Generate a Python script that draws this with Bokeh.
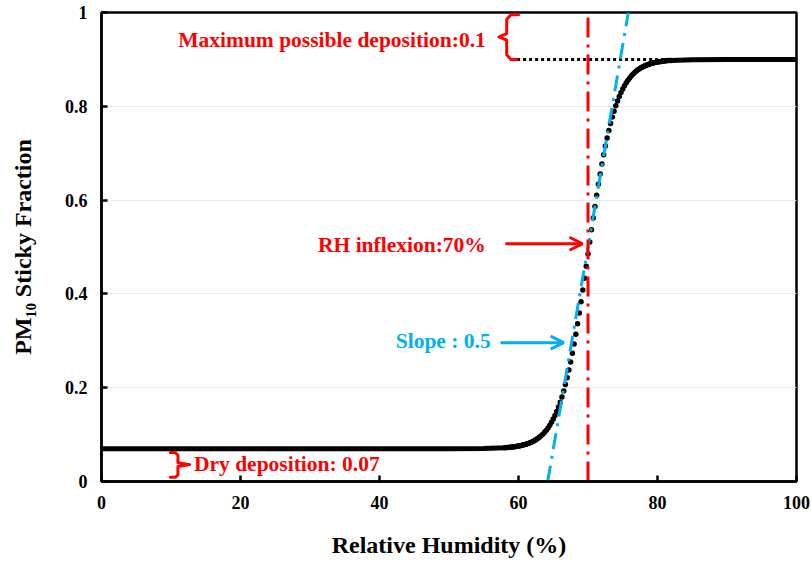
import numpy as np
from bokeh.plotting import figure
from bokeh.models import (Range1d, FixedTicker, NumeralTickFormatter, Label, Arrow,
                          OpenHead, Span)
from bokeh.embed import file_html
from bokeh.resources import INLINE

# ---------------- data ----------------
rh_low = [0, 10, 20, 30, 40, 50, 55]
frac_low = [0.07, 0.07, 0.07, 0.07, 0.07, 0.0700, 0.0705]

rh_steep = [58.0, 58.25, 58.5, 58.75, 59.0, 59.25, 59.5, 59.75,
            60.0, 60.25, 60.5, 60.75, 61.0, 61.25, 61.5, 61.75,
            62.0, 62.25, 62.5, 62.75, 63.0, 63.25, 63.5, 63.75,
            64.0, 64.25, 64.5, 64.75, 65.0, 65.25, 65.5, 65.75,
            66.0, 66.25, 66.5, 66.75, 67.0, 67.25, 67.5, 67.75,
            68.0, 68.25, 68.5, 68.75, 69.0, 69.25, 69.5, 69.75,
            70.0, 70.25, 70.5, 70.75, 71.0, 71.25, 71.5, 71.75,
            72.0, 72.25, 72.5, 72.75, 73.0, 73.25, 73.5, 73.75,
            74.0, 74.25, 74.5, 74.75, 75.0, 75.25, 75.5, 75.75,
            76.0, 76.25, 76.5, 76.75, 77.0, 77.25, 77.5, 77.75,
            78.0, 78.25, 78.5, 78.75, 79.0, 79.25, 79.5, 79.75,
            80.0, 80.25, 80.5, 80.75, 81.0, 81.25, 81.5, 81.75, 82.0]
frac_steep = [0.0721, 0.0723, 0.0726, 0.0730, 0.0734, 0.0738, 0.0743, 0.0749,
              0.0756, 0.0763, 0.0771, 0.0781, 0.0791, 0.0803, 0.0817, 0.0832,
              0.0849, 0.0869, 0.0891, 0.0915, 0.0943, 0.0975, 0.1010, 0.1049,
              0.1094, 0.1143, 0.1199, 0.1261, 0.1330, 0.1406, 0.1491, 0.1586,
              0.1689, 0.1804, 0.1929, 0.2066, 0.2214, 0.2375, 0.2548, 0.2734,
              0.2932, 0.3142, 0.3363, 0.3594, 0.3834, 0.4081, 0.4334, 0.4591,
              0.4850, 0.5109, 0.5366, 0.5619, 0.5866, 0.6106, 0.6337, 0.6558,
              0.6768, 0.6966, 0.7152, 0.7325, 0.7486, 0.7634, 0.7771, 0.7896,
              0.8011, 0.8114, 0.8209, 0.8294, 0.8370, 0.8439, 0.8501, 0.8557,
              0.8606, 0.8651, 0.8690, 0.8725, 0.8757, 0.8785, 0.8809, 0.8831,
              0.8851, 0.8868, 0.8883, 0.8897, 0.8909, 0.8919, 0.8929, 0.8937,
              0.8944, 0.8951, 0.8957, 0.8962, 0.8966, 0.8970, 0.8974, 0.8977, 0.8979]

rh_high = [85, 90, 95, 100]
frac_high = [0.8995, 0.9, 0.9, 0.9]

dry_deposition = 0.07
max_plateau = 0.9
rh_inflexion = 70
slope_line_x = [64.2, 75.8]
slope_line_y = [0.0, 1.0]

x_ticks = [0, 20, 40, 60, 80, 100]
y_ticks = [0, 0.2, 0.4, 0.6, 0.8, 1.0]

FONT = "Liberation Serif"
RED = "#FF0000"
BLUE = "#00B0F0"

# ---------------- figure ----------------
p = figure(width=811, height=562, output_backend="svg", toolbar_location=None,
           x_range=Range1d(0, 100), y_range=Range1d(0, 1),
           min_border_left=101, min_border_right=15, min_border_top=12,
           min_border_bottom=81)
p.background_fill_color = "white"
p.border_fill_color = "white"
p.outline_line_color = "black"
p.outline_line_width = 2.5

p.xgrid.visible = False
p.ygrid.grid_line_color = "#ebebeb"
p.ygrid.grid_line_width = 1

for ax in (p.xaxis[0], p.yaxis[0]):
    ax.axis_line_color = "black"
    ax.axis_line_width = 2.5
    ax.major_tick_in = 6
    ax.major_tick_out = 0
    ax.major_tick_line_width = 2.5
    ax.minor_tick_line_color = None
    ax.major_label_text_font = FONT
    ax.major_label_text_font_style = "bold"
    ax.major_label_text_font_size = "18px"
    ax.major_label_text_color = "black"
    ax.axis_label_text_font = FONT
    ax.axis_label_text_font_style = "bold"
    ax.axis_label_text_font_size = "24px"
    ax.axis_label_text_color = "black"

p.xaxis.ticker = FixedTicker(ticks=x_ticks)
p.yaxis.ticker = FixedTicker(ticks=y_ticks)
p.yaxis.formatter = NumeralTickFormatter(format="0.[0]")
p.xaxis.major_label_standoff = 14
p.yaxis.major_label_standoff = 14
p.xaxis.axis_label = "Relative Humidity (%)"
p.yaxis.axis_label = "PM\u2081\u2080 Sticky Fraction"
p.xaxis.axis_label_standoff = 20
p.yaxis.axis_label_standoff = 26

# ---------------- curve ----------------
rh_all = np.array(rh_low + rh_steep + rh_high, dtype=float)
frac_all = np.array(frac_low + frac_steep + frac_high, dtype=float)
lo = rh_all <= 63
hi = rh_all >= 77
p.line(rh_all[lo], frac_all[lo], line_color="black", line_width=5, line_cap="round")
p.line(rh_all[hi], frac_all[hi], line_color="black", line_width=5, line_cap="round")
p.scatter(rh_steep, frac_steep, size=5.5, marker="circle", fill_color="black",
          line_color=None)

# dotted plateau line
p.line([59.8, 84], [max_plateau, max_plateau], line_color="black", line_width=3,
       line_dash="3 3")

# slope tangent (blue dash-dot)
p.line(slope_line_x, slope_line_y, line_color=BLUE, line_width=3, line_dash="16 7 3 7")

# inflexion vertical (red dash-dot)
p.line([rh_inflexion, rh_inflexion], [0, 1], line_color=RED, line_width=3,
       line_dash="20 7 3 7")

# braces
p.line([60.0, 58.9, 58.3, 58.3, 57.2, 58.3, 58.3, 58.9, 59.8],
       [0.995, 0.995, 0.985, 0.955, 0.948, 0.941, 0.91, 0.9, 0.9],
       line_color=RED, line_width=3, line_join="round", line_cap="round")
p.line([9.9, 10.6, 11.0, 11.0, 12.7, 11.0, 11.0, 10.6, 9.9],
       [0.062, 0.062, 0.056, 0.040, 0.036, 0.032, 0.014, 0.009, 0.009],
       line_color=RED, line_width=3, line_join="round", line_cap="round")

# arrows
p.add_layout(Arrow(end=OpenHead(line_color=RED, line_width=3, size=13),
                   x_start=58.1, y_start=0.507, x_end=69.2, y_end=0.507,
                   line_color=RED, line_width=3))
p.add_layout(Arrow(end=OpenHead(line_color=BLUE, line_width=3, size=13),
                   x_start=57.4, y_start=0.296, x_end=66.5, y_end=0.296,
                   line_color=BLUE, line_width=3))

def lab(x, y, text, color, align):
    p.add_layout(Label(x=x, y=y, text=text, text_color=color, text_font=FONT,
                       text_font_style="bold", text_font_size="21.5px",
                       text_align=align, text_baseline="middle"))

lab(55.3, 0.942, "Maximum possible deposition:0.1", RED, "right")
lab(13.3, 0.037, "Dry deposition: 0.07", RED, "left")
lab(55.3, 0.505, "RH inflexion:70%", RED, "right")
lab(56.0, 0.300, "Slope : 0.5", BLUE, "right")

open("out.html", "w").write(file_html(p, INLINE))
